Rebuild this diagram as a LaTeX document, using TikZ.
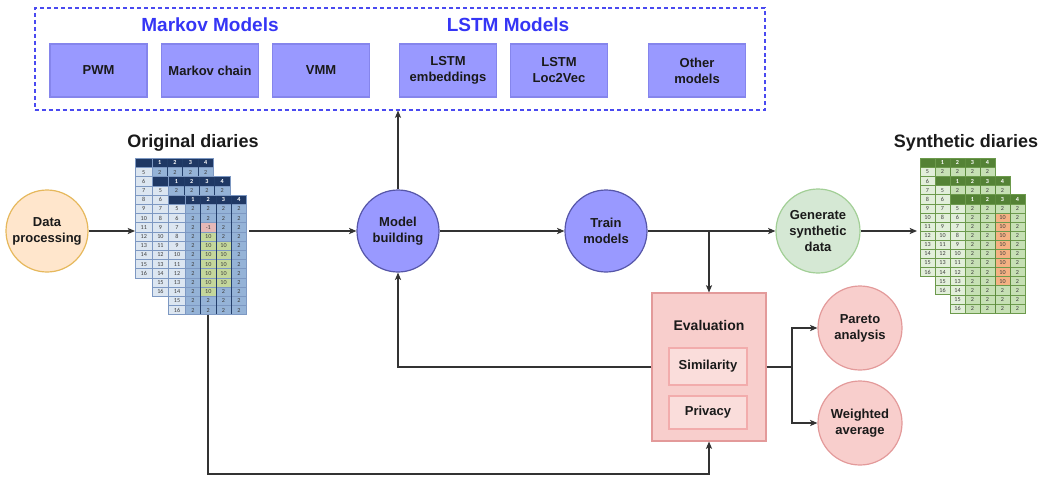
\documentclass[tikz,border=0pt]{standalone}
\usepackage{fontspec}
\setmainfont{Liberation Sans}
\newfontfamily\cellfont{Carlito}
\usetikzlibrary{arrows.meta}

\definecolor{blfill}{HTML}{9999FF}
\definecolor{blbox}{HTML}{8585EC}
\definecolor{blcirc}{HTML}{5656A8}
\definecolor{bltitle}{HTML}{3535F5}
\definecolor{dashc}{HTML}{4A4AF0}
\definecolor{orfill}{HTML}{FFE6CC}
\definecolor{orline}{HTML}{E6B85C}
\definecolor{grfill}{HTML}{D5E8D4}
\definecolor{grline}{HTML}{A2CF96}
\definecolor{pkfill}{HTML}{F8CECC}
\definecolor{pkline}{HTML}{E39A9A}
\definecolor{pkin}{HTML}{FADDDB}
\definecolor{pkinline}{HTML}{F2ACAC}
\definecolor{connc}{HTML}{333333}
\definecolor{txtc}{HTML}{1A1A1A}
% original tables
\definecolor{ohead}{HTML}{1F3864}
\definecolor{olab}{HTML}{DCE6F1}
\definecolor{odat}{HTML}{95B3D7}
\definecolor{ogrid}{HTML}{7D98C2}
\definecolor{ovl}{HTML}{233E6A}
\definecolor{opink}{HTML}{E6B8B7}
\definecolor{ogreen}{HTML}{C4D79B}
% synthetic tables
\definecolor{shead}{HTML}{548235}
\definecolor{slab}{HTML}{E2EFDA}
\definecolor{sdat}{HTML}{C6E0B4}
\definecolor{sgrid}{HTML}{6C9A4C}
\definecolor{svl}{HTML}{5E8C3E}
\definecolor{sorange}{HTML}{F4B183}

\tikzset{
  conn/.style={draw=connc, line width=0.8pt},
  arr/.style={conn, -{Stealth[length=5.5pt,width=4.6pt,inset=1.3pt]}},
  lbl/.style={font=\fontsize{9.75}{12}\selectfont\bfseries, align=center, text=txtc},
  mbox/.style={lbl, draw=blbox, fill=blfill, line width=0.8pt, minimum width=72.75pt, minimum height=39.75pt, inner sep=0pt},
  circ/.style={lbl, circle, line width=0.9pt, minimum size=61.5pt, inner sep=0pt},
  bcirc/.style={circ, draw=blcirc, fill=blfill},
  ocirc/.style={circ, draw=orline, fill=orfill},
  gcirc/.style={circ, draw=grline, fill=grfill, minimum size=63pt},
  pcirc/.style={circ, draw=pkline, fill=pkfill, minimum size=63pt},
  mtitle/.style={font=\fontsize{14.25}{16}\selectfont\bfseries, text=bltitle},
  stitle/.style={font=\fontsize{13.5}{16}\selectfont\bfseries, text=txtc},
  dashbox/.style={draw=dashc, line width=0.8pt, dash pattern=on 3pt off 2.2pt, minimum width=547.5pt, minimum height=76.5pt, inner sep=0pt},
  evbox/.style={draw=pkline, fill=pkfill, line width=0.8pt, minimum width=85.5pt, minimum height=111pt, inner sep=0pt},
  inbox/.style={lbl, draw=pkinline, fill=pkin, line width=0.8pt, minimum width=58.5pt, inner sep=0pt},
  hdrtxt/.style={font=\cellfont\fontsize{4.6}{5}\selectfont\bfseries, text=white, inner sep=0pt},
  labtxt/.style={font=\cellfont\fontsize{4.6}{5}\selectfont, text=black!75, inner sep=0pt},
  valtxt/.style={font=\cellfont\fontsize{4.6}{5}\selectfont, text=black!75, inner sep=0pt},
}

% table helpers: current table geometry
\newcommand\settab[5]{\def\TX{#1}\def\TY{#2}\def\LW{#3}\def\DW{#4}\def\RH{#5}}
\newcommand\tbase[1]{%
  \fill[#1lab] (\TX,\TY) rectangle ++(\LW,13*\RH);
  \fill[#1dat] ({\TX+\LW},\TY) rectangle ++(4*\DW,13*\RH);
  \fill[#1head] (\TX,\TY) rectangle ++({\LW+4*\DW},\RH);
}
\newcommand\tcell[3]{% row col colour
  \fill[#3] ({\TX+\LW+(#2-1)*\DW},{\TY+(#1-4)*\RH}) rectangle ++(\DW,\RH);
}
\newcommand\tgrid[2]{% name palette
  \foreach \i in {2,...,12} \draw[#2grid, line width=0.35pt] (\TX,{\TY+\i*\RH}) -- ++({\LW+4*\DW},0);
  \draw[#2grid, line width=0.35pt] ({\TX+\LW},{\TY+\RH}) -- ++(4*\DW,0);
  \draw[#2grid, line width=0.35pt] (\TX,{\TY+\RH}) -- ++(\LW,0);
  \draw[#2grid, line width=0.4pt] ({\TX+\LW},\TY) -- ++(0,13*\RH);
  \foreach \j in {1,...,3} \draw[#2vl, line width=0.55pt] ({\TX+\LW+\j*\DW},\TY) -- ++(0,13*\RH);
  \draw[#2grid, line width=0.5pt] (\TX,\TY) rectangle ++({\LW+4*\DW},13*\RH);
  \foreach \j in {1,...,4} \node[hdrtxt] (#1-h\j) at ({\TX+\LW+(\j-0.5)*\DW},{\TY+0.5*\RH}) {\j};
  \foreach \i in {5,...,16} \node[labtxt] (#1-l\i) at ({\TX+0.5*\LW},{\TY+(\i-3.5)*\RH}) {\i};
}
\newcommand\trow[3]{% name row values
  \foreach \v [count=\c] in {#3} \node[valtxt] (#1-#2-\c) at ({\TX+\LW+(\c-0.5)*\DW},{\TY+(#2-3.5)*\RH}) {\v};
}

\begin{document}
\begin{tikzpicture}[x=0.75pt,y=-0.75pt]
\useasboundingbox (0,0) rectangle (1049,479);

% ---------- model family box ----------
\node[dashbox] (models) at (400,59) {};
\node[mtitle] (mkt) at (210,25) {Markov Models};
\node[mtitle] (lst) at (508,25) {LSTM Models};
\node[mbox] (pwm) at (98.5,70.5) {PWM};
\node[mbox] (mch) at (210,70.5) {Markov chain};
\node[mbox] (vmm) at (321,70.5) {VMM};
\node[mbox] (lemb) at (448,70.5) {LSTM\\embeddings};
\node[mbox] (lloc) at (559,70.5) {LSTM\\Loc2Vec};
\node[mbox] (oth) at (697,70.5) {Other\\models};

% ---------- original diaries ----------
\node[stitle] (otitle) at (193,143) {Original diaries};
\settab{135.5}{158.3}{16.6}{15.3}{9.2}
\tbase{o}\tgrid{oa}{o}\trow{oa}{5}{2,2,2,2}
\settab{152.1}{176.7}{16.6}{15.3}{9.2}
\tbase{o}\tgrid{ob}{o}\trow{ob}{5}{2,2,2,2}
\settab{168.7}{195.1}{16.6}{15.3}{9.2}
\tbase{o}
\tcell{7}{2}{opink}
\foreach \r in {8,...,14} {\tcell{\r}{2}{ogreen}}
\foreach \r in {9,...,13} {\tcell{\r}{3}{ogreen}}
\tgrid{oc}{o}
\trow{oc}{5}{2,2,2,2}\trow{oc}{6}{2,2,2,2}\trow{oc}{7}{2,-1,2,2}
\trow{oc}{8}{2,10,2,2}\trow{oc}{9}{2,10,10,2}\trow{oc}{10}{2,10,10,2}
\trow{oc}{11}{2,10,10,2}\trow{oc}{12}{2,10,10,2}\trow{oc}{13}{2,10,10,2}
\trow{oc}{14}{2,10,2,2}\trow{oc}{15}{2,2,2,2}\trow{oc}{16}{2,2,2,2}
\coordinate (oin) at (135,231);
\coordinate (oout) at (249,231);
\coordinate (obot) at (208,314.7);

% ---------- synthetic diaries ----------
\node[stitle] (stitle) at (966,143) {Synthetic diaries};
\settab{920}{158.3}{15}{15}{9.1}
\tbase{s}\tgrid{sa}{s}\trow{sa}{5}{2,2,2,2}
\settab{935}{176.5}{15}{15}{9.1}
\tbase{s}\tgrid{sb}{s}\trow{sb}{5}{2,2,2,2}
\settab{950}{194.7}{15}{15}{9.1}
\tbase{s}
\foreach \r in {6,...,13} {\tcell{\r}{3}{sorange}}
\tgrid{sc}{s}
\trow{sc}{5}{2,2,2,2}
\foreach \r in {6,...,13} {\trow{sc}{\r}{2,2,10,2}}
\trow{sc}{14}{2,2,2,2}\trow{sc}{15}{2,2,2,2}\trow{sc}{16}{2,2,2,2}
\coordinate (sin) at (917,231);

% ---------- process nodes ----------
\node[ocirc] (dp) at (47,231) {Data\\processing};
\node[bcirc] (mb) at (398,231) {Model\\building};
\node[bcirc] (tm) at (606,231) {Train\\models};
\node[gcirc] (gen) at (818,231) {Generate\\synthetic\\data};

\node[evbox] (ev) at (709,367) {};
\node[lbl, font=\fontsize{10.5}{12}\selectfont\bfseries] (evt) at (709,325) {Evaluation};
\node[inbox, minimum height=27.75pt] (sim) at (708,366.5) {Similarity};
\node[inbox, minimum height=24.75pt] (priv) at (708,412.5) {Privacy};

\node[pcirc] (par) at (860,328) {Pareto\\analysis};
\node[pcirc] (wav) at (860,423) {Weighted\\average};

% ---------- connectors ----------
\draw[arr] (dp.east) -- (oin);
\draw[arr] (oout) -- (mb.west);
\draw[arr] (mb.north) -- (mb.north |- models.south);
\draw[arr] (mb.east) -- (tm.west);
\draw[arr] (tm.east) -- (gen.west);
\draw[arr] (gen.east) -- (sin);
\coordinate (split) at (709,231);
\draw[arr] (split) -- (ev.north);
\coordinate (fork) at (792,367);
\draw[conn] (ev.east) -- (fork);
\draw[arr] (fork) |- (par.west);
\draw[arr] (fork) |- (wav.west);
\draw[arr] (ev.west) -| (mb.south);
\coordinate (low) at (709,474);
\draw[arr] (obot) |- (low) -- (ev.south);
\end{tikzpicture}
\end{document}
